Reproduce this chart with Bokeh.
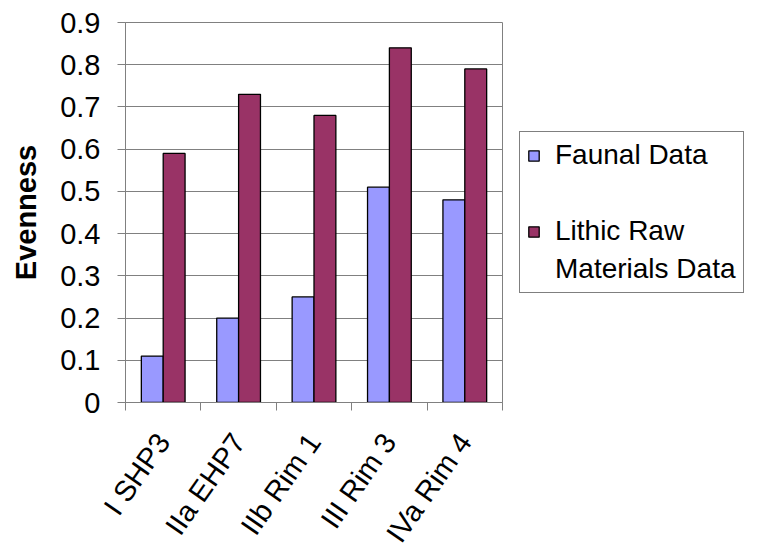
import math
from bokeh.plotting import figure
from bokeh.models import FixedTicker, Legend, LegendItem, Range1d, ColumnDataSource
from bokeh.transform import dodge
from bokeh.embed import file_html
from bokeh.resources import INLINE

categories = ["I SHP3", "IIa EHP7", "IIb Rim 1", "III Rim 3", "IVa Rim 4"]
faunal = [0.11, 0.20, 0.25, 0.51, 0.48]
lithic = [0.59, 0.73, 0.68, 0.84, 0.79]
y_ticks = [0, 0.1, 0.2, 0.3, 0.4, 0.5, 0.6, 0.7, 0.8, 0.9]
y_tick_labels = ["0", "0.1", "0.2", "0.3", "0.4", "0.5", "0.6", "0.7", "0.8", "0.9"]
legend_lines = ["Faunal Data", " ", "Lithic Raw", "Materials Data"]

n = len(categories)
centers = [i + 0.5 for i in range(n)]
bounds = [float(i) for i in range(n + 1)]

src = ColumnDataSource(dict(x=centers, faunal=faunal, lithic=lithic))

FONT = "Liberation Sans"

p = figure(frame_width=377, frame_height=380, output_backend="svg", toolbar_location=None,
           x_range=Range1d(0, n), y_range=Range1d(0, 0.9),
           min_border_left=125, min_border_right=0, min_border_top=22, min_border_bottom=137)

bw = 0.29
r1 = p.vbar(x=dodge("x", -bw / 2, range=p.x_range), top="faunal", width=bw, source=src,
            fill_color="#9999FF", line_color="black", line_width=1.3)
r2 = p.vbar(x=dodge("x", bw / 2, range=p.x_range), top="lithic", width=bw, source=src,
            fill_color="#993366", line_color="black", line_width=1.3)
# invisible renderer used only for legend rows without a swatch
blank = p.vbar(x=[], top=[], width=bw, fill_color=None, line_color=None)

p.outline_line_color = "#808080"
p.outline_line_width = 1
p.xgrid.grid_line_color = None
p.ygrid.grid_line_color = "#808080"
p.ygrid.grid_line_width = 1

ya = p.yaxis[0]
ya.ticker = FixedTicker(ticks=y_ticks)
ya.major_label_overrides = dict(zip(y_ticks, y_tick_labels))
ya.major_label_text_font = FONT
ya.major_label_text_font_size = "29px"
ya.major_label_text_color = "black"
ya.major_tick_out = 8
ya.major_tick_in = 0
ya.minor_tick_line_color = None
ya.axis_line_color = "#808080"
ya.major_tick_line_color = "#808080"
ya.major_label_standoff = 17
ya.axis_label = "Evenness"
ya.axis_label_text_font = FONT
ya.axis_label_text_font_style = "bold"
ya.axis_label_text_font_size = "29px"
ya.axis_label_text_color = "black"
ya.axis_label_standoff = 15

xa = p.xaxis[0]
xa.ticker = FixedTicker(ticks=centers, minor_ticks=bounds)
xa.major_label_overrides = dict(zip(centers, categories))
xa.major_tick_out = 0
xa.major_tick_in = 0
xa.minor_tick_out = 8
xa.minor_tick_in = 0
xa.minor_tick_line_color = "#808080"
xa.axis_line_color = "#808080"
xa.major_label_orientation = math.radians(55)
xa.major_label_text_font = FONT
xa.major_label_text_font_size = "29px"
xa.major_label_text_color = "black"
xa.major_label_standoff = 26

legend = Legend(items=[LegendItem(label=legend_lines[0], renderers=[r1]),
                       LegendItem(label=legend_lines[1], renderers=[blank]),
                       LegendItem(label=legend_lines[2], renderers=[r2]),
                       LegendItem(label=legend_lines[3], renderers=[blank])],
                location="center_left")
legend.label_text_font = FONT
legend.label_text_font_size = "28px"
legend.label_text_color = "black"
legend.label_height = 32
legend.glyph_width = 13
legend.glyph_height = 13
legend.label_standoff = 15
legend.padding = 7
legend.spacing = 6
legend.margin = 17
legend.border_line_color = "black"
legend.border_line_width = 1
legend.background_fill_alpha = 1
p.add_layout(legend, "right")

open("out.html", "w").write(file_html(p, INLINE))
